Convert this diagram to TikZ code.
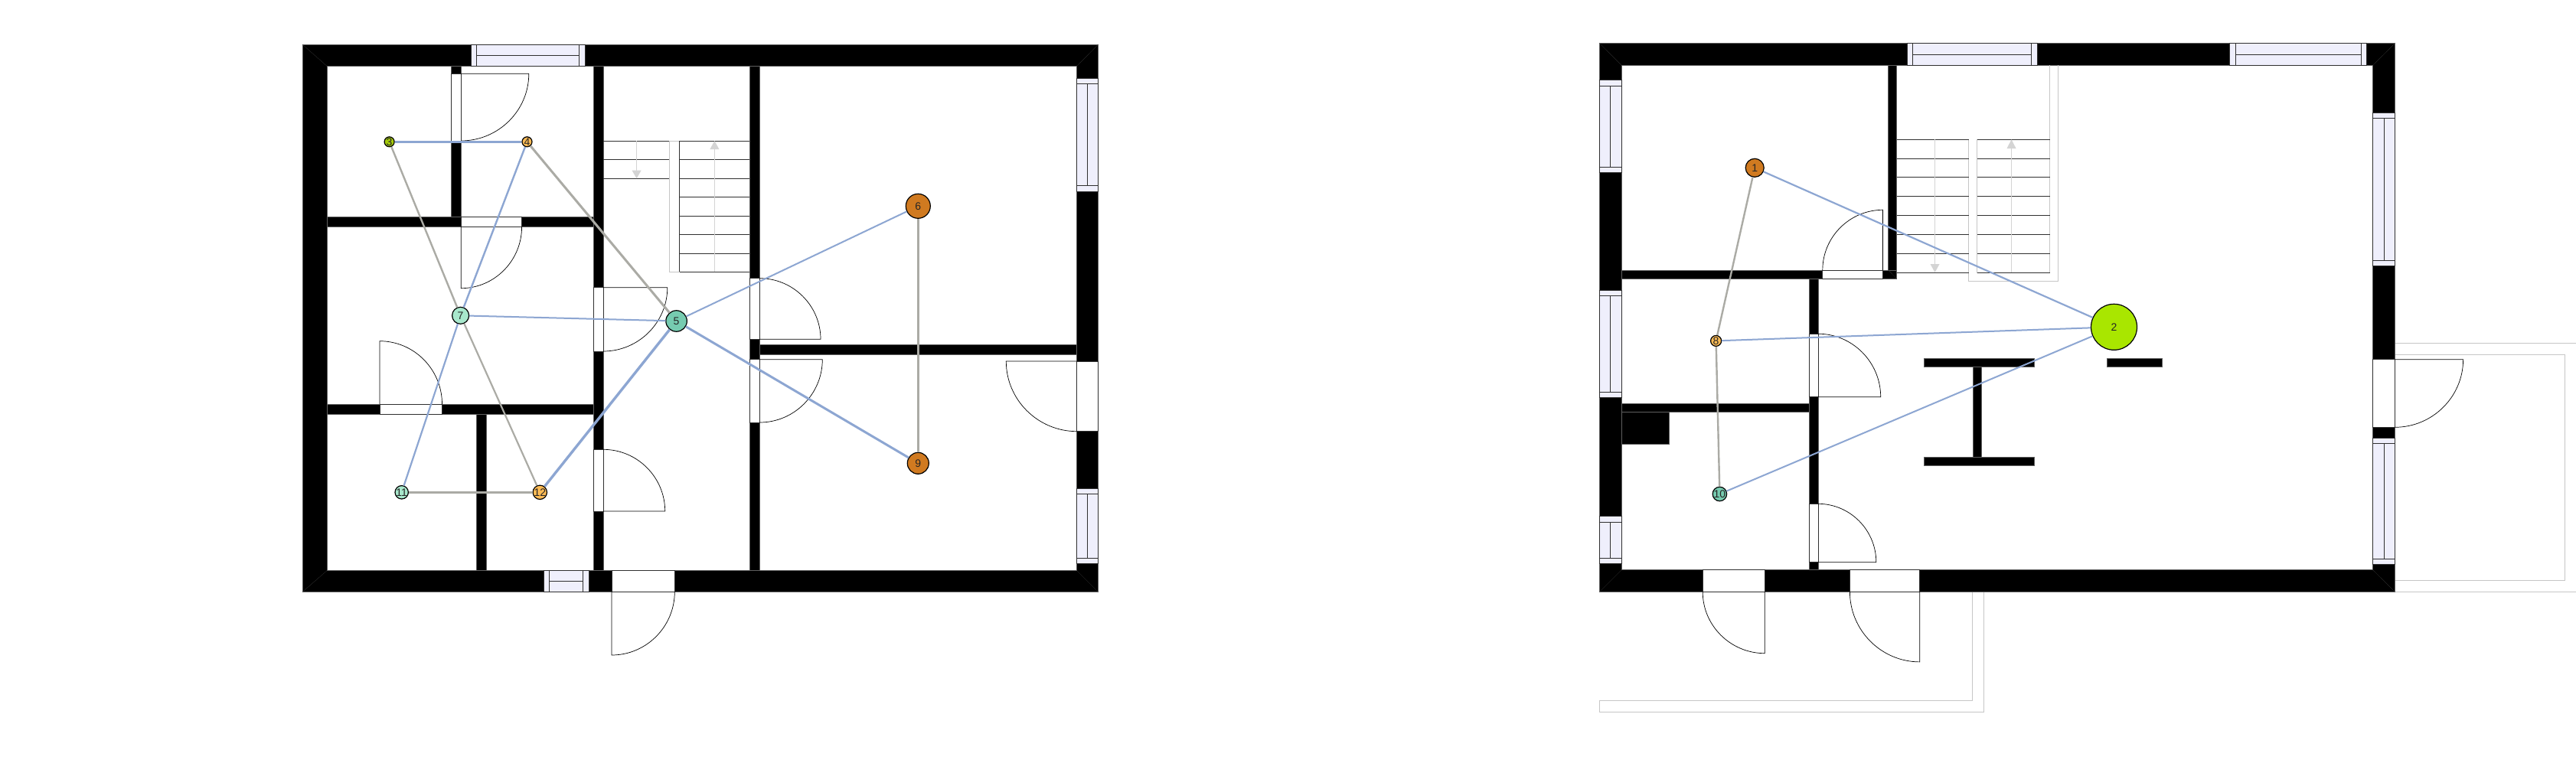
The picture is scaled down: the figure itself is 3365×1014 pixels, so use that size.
\documentclass[tikz,border=0pt]{standalone}
\usepackage{fontspec}
\setsansfont{Liberation Sans}
\usetikzlibrary{calc}
\definecolor{wallc}{HTML}{5F5F5F}
\definecolor{winc}{HTML}{EFEFFC}
\definecolor{treadc}{HTML}{303030}
\definecolor{ghostc}{HTML}{C6C6C6}
\definecolor{arrowc}{HTML}{D4D4D4}
\definecolor{edgeb}{HTML}{8DA6D2}
\definecolor{edgeg}{HTML}{ABABA5}
\definecolor{nodeo}{HTML}{D07A20}
\definecolor{nodey}{HTML}{FDBB55}
\definecolor{nodem}{HTML}{A8E8CC}
\definecolor{nodet}{HTML}{76CBB0}
\definecolor{nodel}{HTML}{A9E600}
\definecolor{noded}{HTML}{A6CC0A}
\tikzset{
  wall/.style={fill=black, draw=wallc, line width=0.8pt},
  gap/.style={fill=white, draw=treadc, line width=0.8pt},
  pane/.style={fill=winc, draw=treadc, line width=0.8pt},
  bar/.style={draw=treadc, line width=0.8pt},
  leaf/.style={draw=black, line width=0.7pt},
  tread/.style={draw=treadc, line width=0.8pt},
  ghost/.style={draw=ghostc, line width=1pt},
  run/.style={draw=arrowc, line width=0.9pt},
  tip/.style={fill=arrowc},
  sensor/.style={draw=black, circle, line width=1.2pt, inner sep=0pt, font=\sffamily\fontsize{14}{14}\selectfont, text=black!85},
  linkb/.style={draw=edgeb, line width=#1},
  linkg/.style={draw=edgeg, line width=#1},
}
% hinge, leaf end, swing end
\newcommand{\doorleaf}[3]{%
  \draw[leaf] (#1) -- (#2) .. controls ($(#2)+0.55*(#3)-0.55*(#1)$) and ($(#3)+0.55*(#2)-0.55*(#1)$) .. (#3);}
\begin{document}
\begin{tikzpicture}[x=1pt,y=-1pt]
  \useasboundingbox (0,0) rectangle (3365,1014);
  \fill[white] (0,0) rectangle (3365,1014);
  % ghost outlines of the upper floor
  \draw[ghost] (2576.9,773.3) -- (2576.9,915.6) -- (2089.4,915.6) -- (2089.4,930.5) -- (2591.6,930.5) -- (2591.6,773.3);
  \draw[ghost] (3128.5,448.3) -- (3365,448.3);
  \draw[ghost] (3128.5,463.3) -- (3350.7,463.3) -- (3350.7,758.4) -- (3128.5,758.4);
  \draw[ghost] (3128.5,773.3) -- (3365,773.3);
  % ground floor walls
  \fill[wall, even odd rule] (395.3,58.3) rectangle (1434.3,773.3) (427,86.3) rectangle (1406.7,745.7);
  \foreach \xa/\ya/\xb/\yb in {589.7/86.3/602.3/283.3, 427/283.3/775.3/296.3, 775.3/86.3/788/745.7,
    427/528/775.3/541, 621.9/541/635.3/745.7, 979.3/86.3/992.3/745.7, 992.3/450.3/1406.7/463.3}
    \fill[wall] (\xa,\ya) rectangle (\xb,\yb);
  \draw[draw=black!80, line width=0.3pt] (395.3,58.3) -- (427,86.3) (1434.3,58.3) -- (1406.7,86.3)
    (395.3,773.3) -- (427,745.7) (1434.3,773.3) -- (1406.7,745.7);
  % upper floor walls
  \fill[wall, even odd rule] (2089.4,56.7) rectangle (3128.5,773.3) (2118.2,85.3) rectangle (3099.4,744.5);
  \foreach \xa/\ya/\xb/\yb in {2466.6/85.3/2477.7/364.3, 2118.2/353/2477.7/364.3, 2363.8/364.3/2374.9/744.5,
    2118.2/527.5/2363.8/538.3, 2118.2/538.3/2180/579.9, 2513.3/468/2657.2/479.5, 2576.9/479.5/2588/597.5,
    2513.3/597.5/2657.2/608.3, 2752.2/468/2824.4/479.5}
    \fill[wall] (\xa,\ya) rectangle (\xb,\yb);
  \draw[draw=black!80, line width=0.3pt] (2089.4,56.7) -- (2118.2,85.3) (3128.5,56.7) -- (3099.4,85.3)
    (2089.4,773.3) -- (2118.2,744.5) (3128.5,773.3) -- (3099.4,744.5) (2466.6,353) -- (2477.7,364.3);
  % door gaps
  \foreach \xa/\ya/\xb/\yb in {589.7/96.3/602.3/184, 602.3/283.3/681.6/296.3, 775.3/375.7/788/459, 775.3/587.3/788/668,
    496/528/577.5/541, 799/745.7/881.3/773.3, 979.3/363.7/992.3/443.3, 979.3/469.7/992.3/552, 1406.7/472/1434.3/563.7,
    2380.8/353/2459.5/364.3, 2363.8/436.2/2374.9/518.7, 2363.8/658.3/2374.9/734.7, 2224.2/744.5/2305.3/773.3,
    2416.4/744.5/2507.7/773.3, 3099.4/469.7/3128.5/558.3}
    \draw[gap] (\xa,\ya) rectangle (\xb,\yb);
  \doorleaf{602.3,96.3}{690.8,96.3}{602.3,184}
  \doorleaf{602.3,296.3}{602.3,376.7}{681.6,296.3}
  \doorleaf{788,375.7}{871.8,375.7}{788,459}
  \doorleaf{788,668}{868.7,668}{788,587.3}
  \doorleaf{496,528}{496,445.7}{577.5,528}
  \doorleaf{799,773.3}{799,856}{881.3,773.3}
  \doorleaf{992.3,443.3}{1072,443.3}{992.3,363.7}
  \doorleaf{992.3,469.7}{1074.3,469.7}{992.3,552}
  \doorleaf{1406.7,472}{1314.3,472}{1406.7,563.7}
  \doorleaf{2459.5,353}{2459.5,274.3}{2380.8,353}
  \doorleaf{2374.9,518.7}{2456.7,518.7}{2374.9,436.2}
  \doorleaf{2374.9,734.7}{2450.8,734.7}{2374.9,658.3}
  \doorleaf{2305.3,773.3}{2305.3,853.7}{2224.2,773.3}
  \doorleaf{2507.7,773.3}{2507.7,864.9}{2416.4,773.3}
  \doorleaf{3128.5,469.7}{3217.6,469.7}{3128.5,558.3}
  % windows in the long walls
  \foreach \xa/\xb/\ma/\mb/\ya/\yb in {615/764/622.6/756.6/58.3/86.3, 709.9/769.2/717.5/761.5/745.7/773.3,
    2491.5/2661/2498.6/2653.6/56.7/85.3, 2912.4/3091.5/2920.3/3084.5/56.7/85.3} {
    \draw[pane] (\xa,\ya) rectangle (\xb,\yb);
    \draw[bar] (\ma,\ya) -- (\ma,\yb) (\mb,\ya) -- (\mb,\yb) (\ma,{(\ya+\yb)/2}) -- (\mb,{(\ya+\yb)/2});
  }
  \foreach \xa/\xb/\ya/\yb/\ma/\mb in {1406.7/1434.3/102/250/109.3/242.3, 1406.7/1434.3/638.3/736.7/645.3/729.3,
    2089.4/2118.2/104.7/225.3/112/218, 2089.4/2118.2/379.3/519.7/386.7/512, 2089.4/2118.2/674.6/736.4/682/729,
    3099.4/3128.5/147.3/347.7/154.3/340.3, 3099.4/3128.5/572.1/737.4/579.2/730} {
    \draw[pane] (\xa,\ya) rectangle (\xb,\yb);
    \draw[bar] (\xa,\ma) -- (\xb,\ma) (\xa,\mb) -- (\xb,\mb) ({(\xa+\xb)/2},\ma) -- ({(\xa+\xb)/2},\mb);
  }
  % stairs
  \draw[ghost] (874.4,184) rectangle (887.5,355.3);
  \foreach \y in {184,208.7,233.3} \draw[tread] (788,\y) -- (874.4,\y);
  \foreach \y in {184,208.7,233.3,257.7,282,306.3,331,355.3} \draw[tread] (887.5,\y) -- (979.3,\y);
  \draw[tread] (887.5,184) -- (887.5,355.3);
  \draw[run] (831.6,184) -- (831.6,223);
  \fill[tip] (825.6,222.7) -- (837.6,222.7) -- (831.6,233.3) -- cycle;
  \draw[run] (933.4,355.3) -- (933.4,195);
  \fill[tip] (927.4,195) -- (939.4,195) -- (933.4,184) -- cycle;
  \draw[ghost] (2571.8,182.3) -- (2571.8,367.3) -- (2688.6,367.3) -- (2688.6,85.3);
  \draw[ghost] (2582.5,182.3) -- (2582.5,356) -- (2677.7,356) -- (2677.7,85.3);
  \foreach \y in {182.3,207,231.7,256.7,281.7,306.3,331.3,356} {
    \draw[tread] (2477.7,\y) -- (2571.8,\y);
    \draw[tread] (2582.5,\y) -- (2677.7,\y);
  }
  \draw[run] (2527.5,182.3) -- (2527.5,345);
  \fill[tip] (2521.5,345) -- (2533.5,345) -- (2527.5,356) -- cycle;
  \draw[run] (2627.5,356) -- (2627.5,194);
  \fill[tip] (2621.5,194) -- (2633.5,194) -- (2627.5,182.3) -- cycle;
  % sensors
  \node[sensor, fill=noded, minimum size=13pt] (s3) at (508.6,185.3) {3};
  \node[sensor, fill=nodey, minimum size=13pt] (s4) at (688.5,185.3) {4};
  \node[sensor, fill=nodem, minimum size=22pt] (s7) at (601.6,412.3) {7};
  \node[sensor, fill=nodet, minimum size=27.5pt] (s5) at (883.6,419.5) {5};
  \node[sensor, fill=nodem, minimum size=14.5pt] (s11) at (524.7,643.3) {11};
  \node[sensor, fill=nodey, minimum size=13pt] (s12) at (705.3,643.3) {12};
  \node[sensor, fill=nodeo, minimum size=32pt] (s6) at (1199.3,269.3) {6};
  \node[sensor, fill=nodeo, minimum size=28pt] (s9) at (1199.3,605.3) {9};
  \node[sensor, fill=nodeo, minimum size=24pt] (s1) at (2292.2,219.3) {1};
  \node[sensor, fill=nodey, minimum size=14pt] (s8) at (2241.6,445.4) {8};
  \node[sensor, fill=nodet, minimum size=16pt] (s10) at (2246.4,645.5) {10};
  \node[sensor, fill=nodel, minimum size=60pt] (s2) at (2761.5,427.3) {2};
  % links
  \draw[linkb=3pt] (s3) -- (s4);
  \draw[linkb=2.4pt] (s4) -- (s7);
  \draw[linkb=2pt] (s7) -- (s5);
  \draw[linkb=2pt] (s5) -- (s6);
  \draw[linkb=3pt] (s5) -- (s9);
  \draw[linkb=3.4pt] (s5) -- (s12);
  \draw[linkb=2.2pt] (s7) -- (s11);
  \draw[linkg=2.4pt] (s3) -- (s7);
  \draw[linkg=3pt] (s4) -- (s5);
  \draw[linkg=3pt] (s6) -- (s9);
  \draw[linkg=2.2pt] (s7) -- (s12);
  \draw[linkg=3pt] (s11) -- (s12);
  \draw[linkb=2.2pt] (s1) -- (s2);
  \draw[linkb=2pt] (s8) -- (s2);
  \draw[linkb=2pt] (s10) -- (s2);
  \draw[linkg=2.4pt] (s1) -- (s8);
  \draw[linkg=2.4pt] (s8) -- (s10);
\end{tikzpicture}
\end{document}
